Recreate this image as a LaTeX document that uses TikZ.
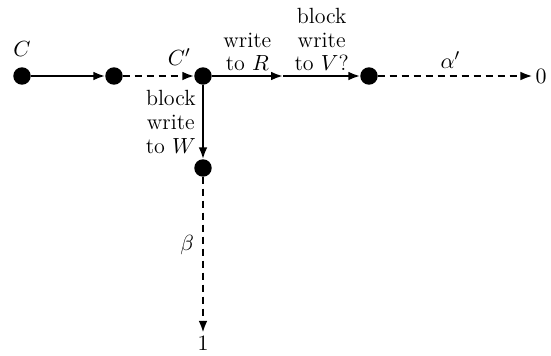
\documentclass[tikz,border=0pt]{standalone}
\usepackage{amsmath, amsfonts, amssymb}
\usetikzlibrary{arrows.meta}
\usetikzlibrary{positioning}
\usetikzlibrary{calc}

\begin{document}
\begin{tikzpicture}[x=0.5pt, y=-0.5pt, line width=1.1pt,
    every node/.style={font=\fontsize{11}{11.8}\selectfont},
    dot/.style={circle, draw=black, fill=black, inner sep=0pt, minimum size=7.6pt},
    tip/.style={-{Latex[length=6pt, width=4.4pt]}},
    dsh/.style={dash pattern=on 3.5pt off 2.5pt}]

        % Fix the margins
        \useasboundingbox (0, 0) rectangle (551, 355);

        % Row of states
        \def\yrow{76}
        \node[dot, label={[inner sep=5pt]above:$C$}] (c) at (22, \yrow) {};
        \node[dot] (p) at (114, \yrow) {};
        \node[dot, label={[inner sep=1.5pt, xshift=-1pt]above left:$C'$}] (cp) at (203, \yrow) {};
        \coordinate (m) at (283, \yrow);
        \node[dot] (v) at (369, \yrow) {};
        \node[inner sep=1pt] (zero) at (541, \yrow) {$0$};

        % Column below C'
        \node[dot] (w) at (203, 168) {};
        \node[inner sep=1pt] (one) at (203, 343) {$1$};

        % Horizontal edges
        \draw[tip] (c) -- (p);
        \draw[tip, dsh] (p) -- (cp);
        \draw[tip] (cp) -- node[above, align=center, inner sep=2pt] {write\\to $R$} (m);
        \draw[tip] (m) -- node[above, align=center, inner sep=2pt] {block\\write\\to $V$?} (v);
        \draw[tip, dsh] (v) -- node[above, pos=0.47, inner sep=3pt] {$\alpha'$} (zero);

        % Vertical edges
        \draw[tip] (cp) -- node[left, align=center, inner sep=3pt] {block\\write\\to $W$} (w);
        \draw[tip, dsh] (w) -- node[left, pos=0.44, inner sep=4pt] {$\beta$} (one);

      \end{tikzpicture}
\end{document}
